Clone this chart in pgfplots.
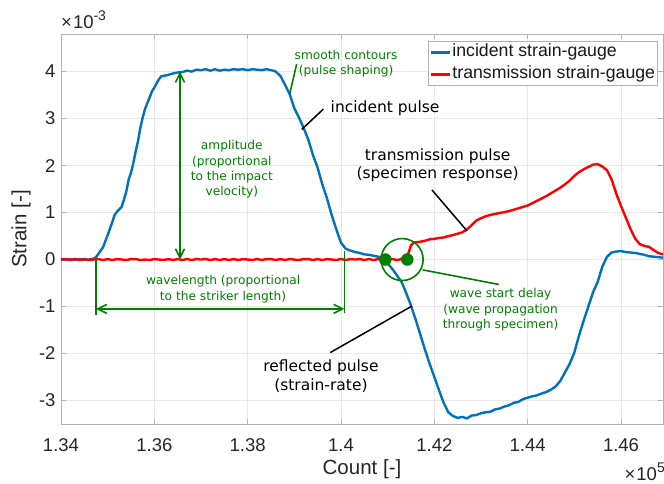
\documentclass[border=0pt]{standalone}
\usepackage{pgfplots}
\pgfplotsset{compat=1.18}
\usepackage{fontspec}
\setmainfont{Liberation Sans}
\newfontfamily\annfont{DejaVu Sans}
\usetikzlibrary{arrows.meta}

\definecolor{mblue}{rgb}{0,0.447,0.741}
\definecolor{mred}{rgb}{1,0,0}
\definecolor{agreen}{rgb}{0,0.5,0}
\definecolor{labgray}{rgb}{0.15,0.15,0.15}

\newcommand{\tickfont}{\fontsize{18.5}{20}\selectfont}
\newcommand{\labfont}{\fontsize{20.5}{22}\selectfont}
\newcommand{\greenfont}{\annfont\fontsize{12.2}{15.3}\selectfont}
\newcommand{\blackfont}{\annfont\fontsize{15.5}{18.3}\selectfont}

% incident strain-gauge signal (strain in units of 1e-3)
\pgfplotstableread{
x y
134000 0.01
134100 -0.01
134200 0.01
134300 -0.01
134400 0.01
134500 -0.01
134600 0.00
134700 0.02
134750 0.05
134800 0.12
134900 0.26
135000 0.52
135100 0.80
135150 0.95
135200 1.02
135300 1.12
135350 1.28
135400 1.45
135450 1.70
135500 1.85
135550 2.05
135600 2.30
135650 2.52
135700 2.80
135750 3.02
135800 3.20
135850 3.33
135900 3.45
135950 3.58
136000 3.66
136050 3.75
136100 3.84
136150 3.90
136200 3.91
136300 3.93
136400 3.96
136500 3.98
136600 3.99
136700 4.02
136800 4.00
136900 4.04
137000 4.03
137100 4.05
137200 4.02
137300 4.05
137400 4.02
137500 4.04
137600 4.03
137700 4.05
137800 4.04
137900 4.05
138000 4.03
138100 4.05
138200 4.04
138300 4.03
138400 4.05
138500 4.03
138550 4.02
138600 4.00
138700 3.91
138800 3.72
138900 3.52
139000 3.22
139100 3.02
139200 2.80
139300 2.55
139400 2.22
139500 1.95
139600 1.60
139700 1.30
139800 0.95
139900 0.64
140000 0.36
140100 0.23
140200 0.19
140300 0.16
140400 0.14
140500 0.11
140600 0.10
140700 0.08
140800 0.06
140900 0.03
141000 -0.08
141100 -0.20
141200 -0.34
141300 -0.48
141400 -0.72
141500 -0.98
141600 -1.28
141700 -1.60
141800 -1.92
141900 -2.22
142000 -2.50
142100 -2.78
142200 -3.05
142300 -3.25
142400 -3.33
142500 -3.37
142600 -3.35
142700 -3.38
142800 -3.32
142900 -3.31
143000 -3.27
143100 -3.25
143200 -3.24
143300 -3.19
143400 -3.17
143500 -3.13
143600 -3.10
143700 -3.05
143800 -3.03
143900 -2.97
144000 -2.94
144100 -2.91
144200 -2.89
144300 -2.85
144400 -2.82
144500 -2.77
144600 -2.70
144700 -2.58
144800 -2.40
144900 -2.22
145000 -1.98
145100 -1.62
145200 -1.30
145300 -1.00
145400 -0.70
145500 -0.48
145600 -0.15
145700 0.06
145800 0.15
145900 0.17
146000 0.18
146100 0.16
146200 0.15
146300 0.14
146400 0.12
146500 0.10
146600 0.07
146700 0.06
146800 0.05
146900 0.04
}\incident

% transmission strain-gauge signal (strain in units of 1e-3)
\pgfplotstableread{
x y
134000 0.00
134100 0.01
134200 -0.01
134300 0.01
134400 -0.01
134500 0.01
134600 -0.01
134700 0.00
134800 0.01
134900 -0.01
135000 0.01
135100 -0.01
135200 0.01
135300 0.00
135400 -0.01
135500 0.01
135600 0.01
135700 -0.01
135800 0.00
135900 -0.01
136000 0.01
136100 0.00
136200 -0.01
136300 0.01
136400 -0.01
136500 0.01
136600 -0.01
136700 0.01
136800 -0.01
136900 0.01
137000 0.00
137100 0.01
137200 -0.01
137300 0.01
137400 -0.01
137500 0.01
137600 -0.01
137700 0.01
137800 -0.01
137900 0.01
138000 0.00
138100 -0.01
138200 0.01
138300 -0.01
138400 0.01
138500 0.01
138600 -0.01
138700 0.01
138800 -0.01
138900 0.01
139000 0.00
139100 -0.01
139200 0.01
139300 0.01
139400 -0.01
139500 0.01
139600 -0.01
139700 0.01
139800 0.00
139900 -0.01
140000 0.01
140100 -0.01
140200 0.01
140300 0.00
140400 0.01
140500 -0.01
140600 0.01
140700 -0.01
140800 0.01
140900 0.00
141000 -0.01
141100 0.01
141200 -0.01
141300 0.01
141400 0.00
141450 0.15
141500 0.30
141560 0.36
141700 0.38
141800 0.40
141900 0.43
142000 0.44
142100 0.46
142200 0.47
142300 0.50
142400 0.52
142500 0.55
142600 0.58
142700 0.64
142800 0.73
142900 0.83
143000 0.88
143100 0.92
143200 0.95
143300 0.97
143400 0.99
143500 1.01
143600 1.03
143700 1.06
143800 1.09
143900 1.12
144000 1.15
144100 1.20
144200 1.25
144300 1.30
144400 1.35
144500 1.41
144600 1.47
144700 1.53
144800 1.60
144900 1.68
145000 1.78
145100 1.86
145200 1.92
145300 1.97
145400 2.02
145500 2.03
145600 1.98
145700 1.90
145800 1.70
145900 1.40
146000 1.14
146100 0.90
146200 0.66
146300 0.45
146400 0.33
146500 0.29
146600 0.27
146700 0.20
146800 0.14
146900 0.11
}\transmission

\begin{document}
\begin{tikzpicture}[
  garrow/.style={agreen, line width=1.6pt},
  barb/.style={-{Straight Barb[length=9pt,width=9pt,line width=1.6pt]}},
  bline/.style={black, line width=1.5pt},
]
\begin{axis}[
  name=ax,
  scale only axis,
  width=602pt, height=390pt,
  xmin=134000, xmax=146900,
  ymin=-3.5, ymax=4.8,
  xtick={134000,136000,138000,140000,142000,144000,146000},
  xticklabels={1.34,1.36,1.38,1.4,1.42,1.44,1.46},
  ytick={-3,-2,-1,0,1,2,3,4},
  yticklabels={-3,-2,-1,0,1,2,3,4},
  scaled ticks=false,
  tick align=inside,
  xtick pos=both, ytick pos=both,
  major tick length=5pt,
  tick style={gray!60, line width=0.8pt},
  axis line style={gray!60, line width=0.8pt},
  grid=major,
  major grid style={gray!18, line width=0.6pt},
  ticklabel style={font=\tickfont, text=labgray},
  xticklabel style={yshift=-11pt},
  yticklabel style={xshift=-2pt},
  xlabel={Count [-]},
  ylabel={Strain [-]},
  label style={font=\labfont, text=labgray},
  xlabel style={at={(axis description cs:0.5,-0.1154)}, anchor=center},
  ylabel style={at={(axis description cs:-0.0664,0.5)}, anchor=center, rotate=0},
  legend cell align=left,
  legend style={
    at={(1,1)}, anchor=north east, xshift=-5pt, yshift=-7pt,
    draw=gray!60, fill=white, line width=0.8pt,
    font=\fontsize{17.7}{21}\selectfont, text=black!90,
    inner xsep=1pt, inner ysep=1pt,
    nodes={inner sep=1.5pt, text height=13pt, text depth=4pt},
    row sep=2pt,
  },
  legend image code/.code={\draw[#1] (0pt,0pt) -- (19pt,0pt);},
]
\addplot[mblue, line width=2.4pt] table[x=x, y=y] {\incident};
\addlegendentry{incident strain-gauge}
\addplot[mred, line width=2.4pt] table[x=x, y=y] {\transmission};
\addlegendentry{transmission strain-gauge}

% amplitude arrow
\draw[garrow, barb] (axis cs:136550,2.0) -- (axis cs:136550,4.0);
\draw[garrow, barb] (axis cs:136550,2.0) -- (axis cs:136550,0.0);
\node[agreen, align=center, font=\greenfont] at (axis cs:137660,1.92)
  {amplitude\\(proportional\\to the impact\\velocity)};

% wavelength arrow
\draw[garrow] (axis cs:134750,0) -- (axis cs:134750,-1.19);
\draw[garrow] (axis cs:140073,0.18) -- (axis cs:140073,-1.13);
\draw[garrow, barb] (axis cs:137400,-1.05) -- (axis cs:134750,-1.05);
\draw[garrow, barb] (axis cs:137400,-1.05) -- (axis cs:140073,-1.05);
\node[agreen, align=center, font=\greenfont] at (axis cs:137473,-0.63)
  {wavelength (proportional\\to the striker length)};

% smooth contours
\draw[garrow] (axis cs:139050,4.16) -- (axis cs:138900,3.52);
\node[agreen, align=center, font=\greenfont] at (axis cs:140110,4.17)
  {smooth contours\\(pulse shaping)};

% incident pulse
\draw[bline] (axis cs:139620,3.20) -- (axis cs:139160,2.77);
\node[black, font=\blackfont] at (axis cs:140945,3.23) {incident pulse};

% transmission pulse
\draw[bline] (axis cs:141950,1.48) -- (axis cs:142700,0.61);
\node[black, align=center, font=\blackfont] at (axis cs:142070,2.0)
  {transmission pulse\\(specimen response)};

% reflected pulse
\draw[bline] (axis cs:139770,-1.98) -- (axis cs:141520,-0.99);
\node[black, align=center, font=\blackfont] at (axis cs:139570,-2.48)
  {reflected pulse\\(strain-rate)};

% wave start delay
\addplot[agreen, only marks, mark=o, mark size=21pt,
  mark options={line width=1.6pt}] coordinates {(141310,0)};
\addplot[agreen, only marks, mark=*, mark size=6pt] coordinates {(140950,0) (141420,0)};
\draw[garrow] (axis cs:141750,-0.22) -- (axis cs:143380,-0.53);
\node[agreen, align=center, font=\greenfont] at (axis cs:143420,-1.07)
  {wave start delay\\(wave propagation\\through specimen)};
\end{axis}

% multipliers of the axes
\node[anchor=base west, text=labgray, inner sep=0pt, font=\tickfont]
  at ([yshift=5pt]ax.north west)
  {×\hspace{1pt}10\raisebox{8pt}{\fontsize{14}{14}\selectfont -3}};
\node[anchor=base east, text=labgray, inner sep=0pt, font=\tickfont]
  at ([yshift=-57pt,xshift=2pt]ax.south east)
  {×\hspace{1pt}10\raisebox{8pt}{\fontsize{14}{14}\selectfont 5}};

\pgfresetboundingbox
\path[use as bounding box] ([shift={(-61pt,-60pt)}]ax.south west)
  rectangle ([shift={(1pt,34pt)}]ax.north east);
\end{tikzpicture}
\end{document}
